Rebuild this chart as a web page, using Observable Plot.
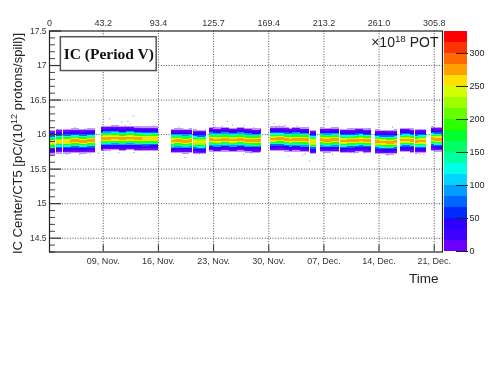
<!DOCTYPE html>
<html><head><meta charset="utf-8">
<script src="https://cdn.jsdelivr.net/npm/d3@7"></script>
<script src="https://cdn.jsdelivr.net/npm/@observablehq/plot@0.6"></script>
<style>
html,body{margin:0;padding:0;background:#fff;overflow:hidden}
#wrap{position:relative;width:491px;height:368px}
#wrap svg{position:absolute;left:0;top:0;background:transparent;filter:blur(0.55px)}
</style></head><body><div id="wrap"></div>
<script>
// Time is given as day counted from 1 Nov (37 = 7 Dec, 44 = 14 Dec, 51 = 21 Dec)
const segmentStart = [2.21,3.03,3.92,4.85,8.75,14.03,15.05,17.68,20.44,22.54,26.95,30.26,32.67,35.34,36.6,39.06,41.57,43.6,46.69,48.68,50.68];
const segmentEnd   = [2.94,3.83,4.85,8.02,13.96,15.0,16.06,20.31,22.09,26.87,29.08,32.58,35.21,36.1,39.03,41.48,43.09,46.36,48.47,50.08,52.1];
const segmentCenter= [15.88,15.89,15.90,15.90,15.94,15.93,15.93,15.90,15.885,15.92,15.91,15.93,15.92,15.89,15.915,15.905,15.91,15.885,15.91,15.90,15.93];
const segmentScale = [0.92,0.92,0.95,0.97,1,0.95,0.95,1,0.92,1,1,0.97,1,0.95,1,0.97,0.97,0.97,0.97,0.97,0.97];
// small day-by-day shift of the band, read by eye; first entry is day 2
const dayShift     = [0,0.005,-0.005,0.004,-0.004,0.005,-0.004,0,0.005,-0.004,0.004,-0.005,0.004,0.005,-0.004,0,0.005,-0.005,0.004,0,0.005,-0.004,0.004,-0.005,0.005,0,-0.004,0.005,0,0.004,-0.005,0.004,0,-0.004,0.005,-0.004,0.004,-0.005,0,0.005,-0.004,0.004,0,-0.005,0.004,0.005,-0.004,0,0.004,-0.004,0.005];
const profileOffset= [-0.17,-0.15,-0.13,-0.11,-0.09,-0.07,-0.05,-0.03,-0.01,0.01,0.03,0.05,0.07,0.09,0.11,0.13,0.15,0.17];
const profileCount = [5,12,20,32,85,135,195,250,280,280,250,195,135,85,32,20,12,5];
const outlierDay   = [9.8,11.33,12.13,12.8,12.38,19.37,24.75,25.4,26.87,26.87,26.8,6.03,10.98,35.17,34.29,32.46,47.03,45.7,30.68,31.32,31.95,40.42,37.54,9.3,10.2,11.8,13.4,18.6,23.2,28.1,31,33.6,38.1,42.2,44.9,49.2,5.4,7.3,3.2,4.4,6.7,8.4,10.7,12.9,15.4,19.1,21.2,24.1,27.8,32.1,34.6,37.9,40.9,42.7,45.1,47.9,49.7,51.6];
const outlierValue = [16.23,16.18,16.19,16.27,16.155,15.67,16.19,16.14,16.13,16.09,15.72,15.71,15.735,15.62,15.706,15.696,15.667,16.106,16.164,16.13,16.12,15.735,16.396,16.11,16.12,16.13,16.1,16.11,16.11,16.1,16.11,16.12,15.72,15.73,15.71,15.72,16.1,15.72,16.07,15.71,16.08,15.73,16.12,15.74,16.13,16.09,15.72,16.12,15.73,16.13,15.72,16.09,15.73,16.08,15.7,16.07,15.71,16.1];
const dateTicks    = [9,16,23,30,37,44,51];
const dateLabels   = ["09, Nov.","16, Nov.","23, Nov.","30, Nov.","07, Dec.","14, Dec.","21, Dec."];
const potTicks     = [2.18,9,16,23,30,37,44,51];
const potLabels    = ["0","43.2","93.4","125.7","169.4","213.2","261.0","305.8"];
const yMajor       = [14.5,15,15.5,16,16.5,17,17.5];
const yMinor       = [14.3,14.4,14.6,14.7,14.8,14.9,15.1,15.2,15.3,15.4,15.6,15.7,15.8,15.9,16.1,16.2,16.3,16.4,16.6,16.7,16.8,16.9,17.1,17.2,17.3,17.4];
const levelColors  = ["#6a00ff","#4000ff","#2a00ff","#002bff","#0066ff","#009eff","#00d4ff","#00ffe8","#00ffa0","#00ff66","#00ff2b","#2bff00","#66ff00","#9eff00","#d4ff00","#ffe000","#ffa000","#ff6a00","#ff3300","#ff0000"];
const levelEdges   = [16.7,33.4,50.1,66.8,83.5,100.2,116.9,133.6,150.3,167,183.7,200.4,217.1,233.8,250.5,267.2,283.9,300.6,317.3];
const levelStart   = [0,16.7,33.4,50.1,66.8,83.5,100.2,116.9,133.6,150.3,167,183.7,200.4,217.1,233.8,250.5,267.2,283.9,300.6,317.3];
const barTicks     = [0,50,100,150,200,250,300];

const cells = [];
segmentStart.forEach((s,i)=>{
  const e = segmentEnd[i];
  for (let a=s; a<e; ) {
    const day = Math.floor(a), b = Math.min(e, day+1);
    const k = day-2;
    profileOffset.forEach((o,j)=>{
      const c = segmentCenter[i]+dayShift[k]+o;
      cells.push({x1:a,x2:b,y1:c-0.01,y2:c+0.01,c:profileCount[j]*segmentScale[i]});
    });
    a = b;
  }
});
const outliers = outlierDay.map((d,i)=>({d,v:outlierValue[i]}));
const levelScale = {type:"threshold",domain:levelEdges,range:levelColors};
const sans = "'Liberation Sans',Arial,sans-serif";

const main = Plot.plot({
  width:491,height:368,marginLeft:49,marginRight:49,marginTop:30.5,marginBottom:116.5,
  style:{fontFamily:sans,background:"transparent"},
  x:{domain:[2.18,52.05],label:null,axis:null},
  y:{domain:[14.3,17.5],label:null,axis:null},
  color:levelScale,
  marks:[
    Plot.gridX(dateTicks,{stroke:"#111",strokeOpacity:0.75,strokeDasharray:"1,1.6"}),
    Plot.gridY(yMajor.slice(0,-1),{stroke:"#111",strokeOpacity:0.75,strokeDasharray:"1,1.6"}),
    Plot.rect(cells,{x1:"x1",x2:"x2",y1:"y1",y2:"y2",fill:"c",fillOpacity:d=>Math.min(1,d.c/12),shapeRendering:"crispEdges"}),
    Plot.dot(outliers,{x:"d",y:"v",r:0.7,fill:"#8a55ff",fillOpacity:0.6,stroke:"none"}),
    Plot.axisY(yMajor,{anchor:"left",tickSize:-12,tickPadding:15,tickFormat:d=>String(d),fontSize:8.5,fill:"#333",stroke:"#333",strokeWidth:1.2}),
    Plot.axisY(yMinor,{anchor:"left",tickSize:-6,tickFormat:()=>"",stroke:"#444",strokeWidth:1}),
    Plot.axisX(dateTicks,{anchor:"bottom",tickSize:-7,tickPadding:13,tickFormat:(d,i)=>dateLabels[i],fontSize:9,fill:"#333",stroke:"#333"}),
    Plot.axisX(potTicks,{anchor:"top",tickSize:0,tickPadding:5,tickFormat:(d,i)=>potLabels[i],fontSize:9,fill:"#333"}),
    Plot.frame({stroke:"#222",strokeWidth:1.2}),
    Plot.rect([{}],{x1:()=>3.62,x2:()=>15.78,y1:()=>16.92,y2:()=>17.41,fill:"#fff",stroke:"#555",strokeWidth:1.5}),
    Plot.text(["IC (Period V)"],{x:()=>9.7,y:()=>17.165,fontFamily:"'Liberation Serif',serif",fontWeight:"bold",fontSize:15.5,fill:"#111"}),
    Plot.text(["×10|18| POT"],{frameAnchor:"top-right",dx:-4,dy:6,fontSize:14,fill:"#222"}),
    Plot.text(["Time"],{frameAnchor:"bottom-right",dx:-4,dy:31,fontSize:13.5,fill:"#222"}),
    Plot.text(["IC Center/CT5 [pC/(10|12| protons/spill)]"],{frameAnchor:"left",textAnchor:"middle",dx:-32,dy:2,rotate:-90,fontSize:13,fill:"#222"})
  ]
});
// superscripts in the two annotations become real tspans
main.querySelectorAll("text").forEach(t=>{
  if (t.textContent.includes("|")) {
    const [a,b,c] = t.textContent.split("|");
    t.textContent = "";
    const mk = (s,attrs)=>{const n=document.createElementNS("http://www.w3.org/2000/svg","tspan");n.textContent=s;for(const k in attrs)n.setAttribute(k,attrs[k]);t.appendChild(n);};
    mk(a,{});
    mk(b,{dy:-5,"font-size":"70%"});
    mk(c,{dy:5});
  }
});
const bar = Plot.plot({
  width:491,height:368,marginLeft:444,marginRight:24,marginTop:30.5,marginBottom:117,
  style:{fontFamily:sans,background:"transparent"},
  x:{axis:null,domain:[0,1]},
  y:{domain:[0,334],label:null,axis:null},
  color:levelScale,
  marks:[
    Plot.rect(levelStart,{x1:()=>0,x2:()=>1,y1:d=>d,y2:d=>d+16.7,fill:d=>d+1,shapeRendering:"crispEdges"}),
    Plot.axisY(barTicks,{anchor:"right",tickSize:-12,tickPadding:14,tickFormat:d=>String(d),fontSize:9,fill:"#222",stroke:"#222"})
  ]
});
const w=document.getElementById("wrap");
w.appendChild(main);
w.appendChild(bar);
</script></body></html>
